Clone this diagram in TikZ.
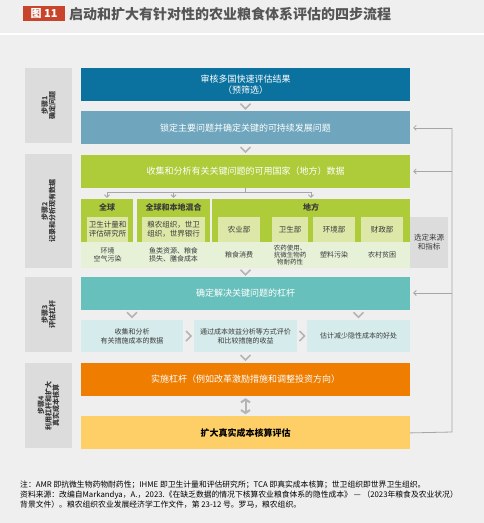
\documentclass[tikz,border=0pt]{standalone}
\usepackage{fontspec}
\setmainfont{Noto Sans CJK SC}
\usetikzlibrary{positioning}
\usetikzlibrary{calc}
\usetikzlibrary{arrows.meta}

\definecolor{bggray}{HTML}{EFEFEF}
\definecolor{stepgray}{HTML}{DCDCDC}
\definecolor{linegray}{HTML}{A6A6A6}
\definecolor{chevgray}{HTML}{B4B4B4}
\definecolor{textgray}{HTML}{3A3A3A}
\definecolor{titlegray}{HTML}{555555}
\definecolor{titlered}{HTML}{C8452C}
\definecolor{reviewblue}{HTML}{0B72A0}
\definecolor{focusblue}{HTML}{6FA6BD}
\definecolor{datalime}{HTML}{AECB3A}
\definecolor{sublime}{HTML}{DDE8A8}
\definecolor{bandgreen}{HTML}{E6F1D8}
\definecolor{levteal}{HTML}{68C0BC}
\definecolor{subteal}{HTML}{D6ECEC}
\definecolor{actorange}{HTML}{EE7D00}
\definecolor{tcayellow}{HTML}{FDCF66}

\begin{document}
\begin{tikzpicture}[
        x=1pt, y=-1pt,
        every node/.style={inner sep=0pt, align=center, text=textgray},
        mainbox/.style = {minimum width=329pt,
                          minimum height=33pt,
                          text=white,
                          font=\fontsize{9}{11.5}\selectfont},
        steplabel/.style = {fill=stepgray,
                            rotate=90,
                            minimum width=#1,
                            minimum height=47pt,
                            font=\bfseries\fontsize{7}{7.5}\selectfont},
        column/.style = {fill=datalime, minimum height=43pt},
        colhead/.style = {font=\bfseries\fontsize{8}{9}\selectfont},
        source/.style = {fill=sublime, minimum height=25pt,
                         font=\fontsize{7.5}{9}\selectfont},
        issue/.style = {font=\fontsize{7}{8.5}\selectfont},
        method/.style = {fill=subteal, minimum height=32pt,
                         font=\fontsize{7}{9}\selectfont},
        chev/.style = {draw=chevgray, line width=1.6pt},
        link/.style = {draw=linegray, line width=0.8pt},
        backarrow/.style = {link, -{Straight Barb[length=2.5pt,width=5pt]}}
        ]
        % background and title
        \useasboundingbox (0,0) rectangle (484,523);
        \fill[bggray] (0,0) rectangle (484,523);
        \fill[white] (0,32.5) rectangle (484,34.5);
        \node[fill=titlered, minimum width=42pt, minimum height=15pt, text=white,
              font=\bfseries\fontsize{11}{11}\selectfont] (figno) at (44,13.5) {图 11};
        \node[anchor=west, text=titlegray, font=\bfseries\fontsize{14}{14}\selectfont]
              (title) at (69,14) {启动和扩大有针对性的农业粮食体系评估的四步流程};

        % step labels
        \node[steplabel=75pt] (step1) at (48.5,105.5) {步骤1\\确定问题};
        \node[steplabel=114pt] (step2) at (48.5,211) {步骤2\\记录和分析现有数据};
        \node[steplabel=75pt] (step3) at (48.5,314.5) {步骤3\\评估杠杆};
        \node[steplabel=85pt] (step4) at (48.5,405.5) {步骤4\\利用杠杆和扩大\\真实成本核算};

        % main flow
        \node[mainbox, fill=reviewblue] (review) at (245.5,84.5) {审核多国快速评估结果\\（预筛选）};
        \node[mainbox, fill=focusblue] [below = 10pt of review] (focus) {锁定主要问题并确定关键的可持续发展问题};
        \node[mainbox, fill=datalime] [below = 10pt of focus] (collect) {收集和分析有关关键问题的可用国家（地方）数据};

        % data sources
        \node[column, minimum width=52pt] (gcol) at (107,220.5) {};
        \node[column, minimum width=73pt] (mcol) at (173.5,220.5) {};
        \node[column, minimum width=198pt] (lcol) at (311,220.5) {};
        \node[colhead] (ghead) at (107,207.5) {全球};
        \node[colhead] (mhead) at (173.5,207.5) {全球和本地混合};
        \node[colhead] (lhead) at (311,207.5) {地方};
        \node[source, minimum width=41pt] (ihme) at (107.5,229.5) {卫生计量和\\评估研究所};
        \node[source, minimum width=63pt] (intl) at (173.5,229.5) {粮农组织，世卫\\组织，世界银行};
        \node[source, minimum width=42pt] (agri) at (239,229.5) {农业部};
        \node[source, minimum width=36pt] (health) at (290,229.5) {卫生部};
        \node[source, minimum width=42pt] (env) at (334,229.5) {环境部};
        \node[source, minimum width=42pt] (fin) at (382,229.5) {财政部};
        \node[fill=bandgreen, minimum width=329pt, minimum height=26pt] (band) at (245.5,255) {};
        \node[issue] (air) at (ihme |- band) {环境\\空气污染};
        \node[issue] (fish) at (intl |- band) {鱼类资源、粮食\\损失、膳食成本};
        \node[issue] (diet) at (agri |- band) {粮食消费};
        \node[issue, font=\fontsize{6.5}{6.8}\selectfont] (amr) at (health |- band) {农药使用、\\抗微生物药\\物耐药性};
        \node[issue] (plastic) at (env |- band) {塑料污染};
        \node[issue] (poverty) at (fin |- band) {农村贫困};
        \node[fill=stepgray, minimum width=38pt, minimum height=51pt,
              font=\fontsize{7.5}{9}\selectfont] (select) at (429,242.5) {选定来源\\和指标};

        % levers
        \node[mainbox, fill=levteal] (lever) at (245.5,293) {确定解决关键问题的杠杆};
        \node[method, minimum width=102pt] (cost) at (132,336) {收集和分析\\有关措施成本的数据};
        \node[method, minimum width=103pt] (benefit) at (245.5,336) {通过成本效益分析等方式评价\\和比较措施的收益};
        \node[method, minimum width=103pt] (hidden) at (358.5,336) {估计减少隐性成本的好处};

        % action
        \node[mainbox, fill=actorange] (act) at (245.5,379.5) {实施杠杆（例如改革激励措施和调整投资方向）};
        \node[mainbox, fill=tcayellow, text=black, font=\bfseries\fontsize{9}{11}\selectfont]
              [below = 20pt of act] (scale) {扩大真实成本核算评估};

        % chevrons
        \draw[chev] ($(review.south)!.5!(focus.north)$) +(-5,-2.5) -- +(0,2.5) -- +(5,-2.5);
        \draw[chev] ($(focus.south)!.5!(collect.north)$) +(-5,-2.5) -- +(0,2.5) -- +(5,-2.5);
        \draw[chev] ($(band.south)!.5!(lever.north)$) +(-5,-2.5) -- +(0,2.5) -- +(5,-2.5);
        \draw[chev] ($(lever.south -| cost.north)!.5!(cost.north)$) +(-5,-2.5) -- +(0,2.5) -- +(5,-2.5);
        \draw[chev] ($(lever.south -| hidden.north)!.5!(hidden.north)$) +(-5,-2.5) -- +(0,2.5) -- +(5,-2.5);
        \draw[chev] ($(cost.east)!.5!(benefit.west)$) +(-2.5,-5) -- +(2.5,0) -- +(-2.5,5);
        \draw[chev] ($(benefit.east)!.5!(hidden.west)$) +(-2.5,-5) -- +(2.5,0) -- +(-2.5,5);
        \draw[chev] ($(benefit.south)!.5!(act.north)$) +(-5,-2.5) -- +(0,2.5) -- +(5,-2.5);
        \draw[chevgray, line width=2pt, shorten <=2pt, shorten >=2pt,
              {Straight Barb[length=3pt,width=9pt]}-{Straight Barb[length=3pt,width=9pt]}] (act.south) -- (scale.north);

        % fork into the data sources
        \draw[link] (collect.south) -- ++(0,4) coordinate (fork);
        \draw[link] (fork -| gcol.north) -- (fork -| lcol.north);
        \draw[backarrow, shorten >=1pt] (fork -| gcol.north) -- (gcol.north);
        \draw[backarrow, shorten >=1pt] (fork -| mcol.north) -- (mcol.north);
        \draw[backarrow, shorten >=1pt] (fork -| lcol.north) -- (lcol.north);

        % feedback loop
        \coordinate (loop) at (452,432);
        \draw[link] (scale.east) -- (loop) -- (loop |- focus.east);
        \draw[backarrow] (loop |- focus.east) -- ([xshift=3pt]focus.east);
        \draw[backarrow] (loop |- collect.east) -- ([xshift=3pt]collect.east);
        \draw[backarrow] (loop |- lever.east) -- ([xshift=3pt]lever.east);

        % notes
        \node[anchor=north west, align=left, text=black, font=\fontsize{7.8}{10}\selectfont] (notes) at (20,481)
              {注：AMR 即抗微生物药物耐药性；IHME 即卫生计量和评估研究所；TCA 即真实成本核算；世卫组织即世界卫生组织。\\
               资料来源：改编自Markandya，A.，2023.《在缺乏数据的情况下核算农业粮食体系的隐性成本》 — （2023年粮食及农业状况）\\
               背景文件）。粮农组织农业发展经济学工作文件，第 23-12 号。罗马，粮农组织。};
    \end{tikzpicture}
\end{document}
